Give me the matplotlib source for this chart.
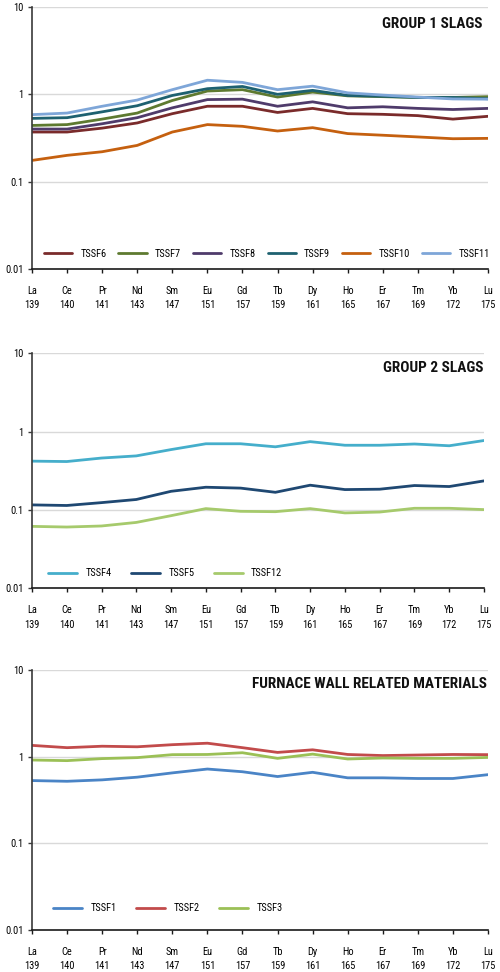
import matplotlib
matplotlib.use("Agg")
import matplotlib.pyplot as plt
from matplotlib import font_manager
from matplotlib.ticker import FixedLocator, NullLocator

available = {f.name for f in font_manager.fontManager.ttflist}
preferred = ["Roboto Condensed", "Fira Sans Condensed", "Liberation Sans Narrow", "Archivo Narrow",
             "PT Sans Narrow"]
font_main = next((f for f in preferred if f in available), None)
if font_main:
    plt.rcParams['font.family'] = [font_main, 'DejaVu Sans']
else:
    plt.rcParams['font.family'] = ['DejaVu Sans']
    plt.rcParams['font.stretch'] = 'condensed'

elements = ["La", "Ce", "Pr", "Nd", "Sm", "Eu", "Gd", "Tb", "Dy", "Ho", "Er", "Tm", "Yb", "Lu"]
masses = ["139", "140", "141", "143", "147", "151", "157", "159", "161", "165", "167", "169", "172", "175"]

# Group 1 slags
tssf6 = [0.37, 0.37, 0.41, 0.47, 0.60, 0.73, 0.73, 0.62, 0.69, 0.60, 0.59, 0.57, 0.52, 0.56]
tssf7 = [0.44, 0.45, 0.52, 0.61, 0.85, 1.09, 1.13, 0.93, 1.06, 0.96, 0.94, 0.92, 0.92, 0.94]
tssf8 = [0.40, 0.40, 0.46, 0.54, 0.70, 0.87, 0.88, 0.73, 0.82, 0.70, 0.72, 0.69, 0.67, 0.69]
tssf9 = [0.53, 0.54, 0.63, 0.74, 0.97, 1.16, 1.23, 1.00, 1.11, 0.97, 0.95, 0.92, 0.92, 0.89]
tssf10 = [0.175, 0.20, 0.22, 0.26, 0.37, 0.45, 0.43, 0.38, 0.415, 0.355, 0.34, 0.325, 0.31, 0.313]
tssf11 = [0.585, 0.61, 0.73, 0.86, 1.13, 1.45, 1.37, 1.13, 1.24, 1.04, 0.98, 0.93, 0.885, 0.88]

# Group 2 slags
tssf4 = [0.42, 0.415, 0.46, 0.49, 0.59, 0.70, 0.70, 0.64, 0.745, 0.67, 0.67, 0.695, 0.66, 0.77]
tssf5 = [0.116, 0.114, 0.124, 0.136, 0.173, 0.195, 0.19, 0.168, 0.207, 0.182, 0.184, 0.205, 0.199, 0.235]
tssf12 = [0.0617, 0.0605, 0.0624, 0.0693, 0.0845, 0.104, 0.096, 0.095, 0.104, 0.0916, 0.094, 0.105, 0.105, 0.101]

# Furnace wall related materials
tssf1 = [0.53, 0.52, 0.54, 0.58, 0.65, 0.72, 0.67, 0.59, 0.66, 0.57, 0.57, 0.56, 0.56, 0.62]
tssf2 = [1.35, 1.27, 1.32, 1.30, 1.375, 1.43, 1.27, 1.12, 1.20, 1.06, 1.03, 1.045, 1.06, 1.055]
tssf3 = [0.915, 0.90, 0.95, 0.975, 1.055, 1.06, 1.11, 0.956, 1.07, 0.94, 0.965, 0.956, 0.956, 0.98]

panels = [
    dict(rect=[0.064, 0.7233, 0.912, 0.2695], title="GROUP 1 SLAGS", ty=0.962, tx=0.989,
         series=[("TSSF6", tssf6, "#7A2B2B"), ("TSSF7", tssf7, "#5E7A30"), ("TSSF8", tssf8, "#4F3B6B"),
                 ("TSSF9", tssf9, "#1E6170"), ("TSSF10", tssf10, "#C5600F"), ("TSSF11", tssf11, "#7EA6D8")],
         leg=(0.026, 0.057), cs=1.15, hl=2.7),
    dict(rect=[0.064, 0.3948, 0.904, 0.2417], title="GROUP 2 SLAGS", ty=0.969, tx=0.998,
         series=[("TSSF4", tssf4, "#45AECB"), ("TSSF5", tssf5, "#1F4872"), ("TSSF12", tssf12, "#A6CA6C")],
         leg=(0.035, 0.064), cs=1.85, hl=2.8),
    dict(rect=[0.064, 0.0432, 0.912, 0.2675], title="FURNACE WALL RELATED MATERIALS", ty=0.972, tx=0.998,
         series=[("TSSF1", tssf1, "#4A84C6"), ("TSSF2", tssf2, "#C24B4B"), ("TSSF3", tssf3, "#9BC056")],
         leg=(0.046, 0.083), cs=1.85, hl=2.8),
]

fig = plt.figure(figsize=(5, 9.72), dpi=100)
x = list(range(len(elements)))
xlabels = [f"{e}\n{m}" for e, m in zip(elements, masses)]

for p in panels:
    ax = fig.add_axes(p["rect"])
    ax.set_yscale("log")
    ax.set_ylim(0.01, 10)
    ax.set_xlim(0, len(elements) - 1)
    ax.yaxis.set_major_locator(FixedLocator([0.01, 0.1, 1, 10]))
    ax.yaxis.set_minor_locator(NullLocator())
    ax.set_yticklabels(["0.01", "0.1", "1", "10"])
    ax.set_xticks(x)
    ax.set_xticklabels(xlabels, linespacing=1.6)
    ax.grid(axis="y", color="#D9D9D9", lw=1.0)
    ax.set_axisbelow(True)
    for s in ["top", "right"]:
        ax.spines[s].set_visible(False)
    ax.spines["left"].set_color("#3A3A3A")
    ax.spines["bottom"].set_color("#1A1A1A")
    ax.spines["left"].set_linewidth(1.2)
    ax.spines["bottom"].set_linewidth(1.2)
    ax.tick_params(axis="x", direction="out", length=3, width=1, pad=9, labelsize=7.5, color="#1A1A1A")
    ax.tick_params(axis="y", direction="out", length=3, width=1, pad=3, labelsize=7.5, color="#3A3A3A")
    for name, vals, col in p["series"]:
        ax.plot(x, vals, color=col, lw=2.0, label=name, solid_capstyle="round")
    ax.text(p["tx"], p["ty"], p["title"], transform=ax.transAxes, ha="right", va="top",
            fontsize=11, fontweight="bold", color="#111111")
    ax.legend(loc="center left", bbox_to_anchor=p["leg"], ncol=len(p["series"]), frameon=False,
              fontsize=7.5, handlelength=p["hl"], handletextpad=0.8, columnspacing=p["cs"],
              borderpad=0, borderaxespad=0)

fig.savefig("out.png", dpi=100)
